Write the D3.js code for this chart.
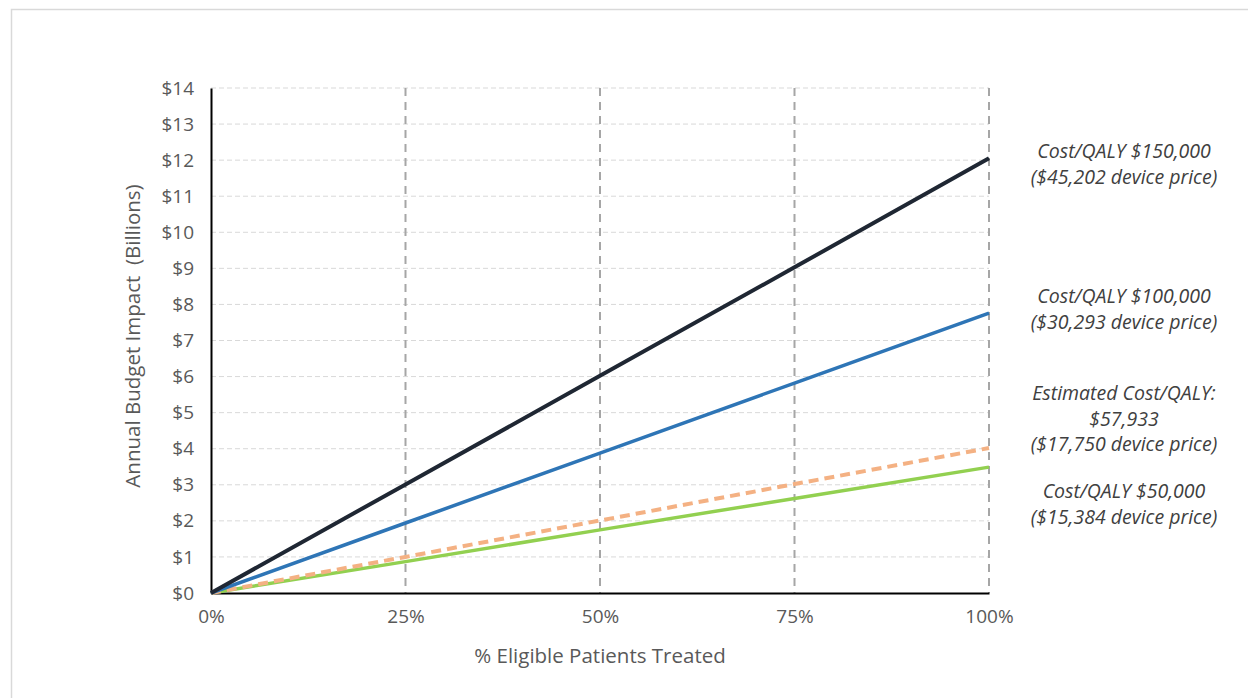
<!DOCTYPE html>
<html><head><meta charset="utf-8">
<script src="https://cdn.jsdelivr.net/npm/d3@7"></script>
<style>body{margin:0;background:#fff;} svg{display:block;}</style>
</head><body>
<svg id="c" width="1248" height="698"></svg>
<script>
const xCategories = [0, 0.25, 0.5, 0.75, 1.0];
const xTickLabels = ["0%", "25%", "50%", "75%", "100%"];
const yTicks = [0,1,2,3,4,5,6,7,8,9,10,11,12,13,14];
const seriesNames = ["Cost/QALY $150,000", "Cost/QALY $100,000", "Estimated Cost/QALY: $57,933", "Cost/QALY $50,000"];
const black150k = [0, 3.01, 6.02, 9.03, 12.05];
const blue100k = [0, 1.94, 3.88, 5.82, 7.76];
const orangeEst = [0, 1.00, 2.01, 3.02, 4.02];
const green50k = [0, 0.87, 1.75, 2.62, 3.49];
const labelLines = [
  ["Cost/QALY $150,000", "($45,202 device price)"],
  ["Cost/QALY $100,000", "($30,293 device price)"],
  ["Estimated Cost/QALY:", "$57,933", "($17,750 device price)"],
  ["Cost/QALY $50,000", "($15,384 device price)"]
];

const svg = d3.select("#c");
const font = "'Open Sans', sans-serif";
// outer frame
svg.append("rect").attr("x",11.5).attr("y",9.5).attr("width",1300).attr("height",800)
  .attr("fill","none").attr("stroke","#d9d9d9").attr("stroke-width",1.5);

const x = d3.scaleLinear().domain([0,1]).range([211,989]);
const y = d3.scaleLinear().domain([0,14]).range([593,88]);

// horizontal gridlines
svg.append("g").selectAll("line").data(yTicks.filter(d=>d>0)).join("line")
  .attr("x1",x(0)).attr("x2",x(1)).attr("y1",d=>y(d)).attr("y2",d=>y(d))
  .attr("stroke","#d9d9d9").attr("stroke-width",1).attr("stroke-dasharray","5,3");
// vertical gridlines
svg.append("g").selectAll("line").data(xCategories.filter(d=>d>0)).join("line")
  .attr("x1",d=>x(d)).attr("x2",d=>x(d)).attr("y1",y(14)).attr("y2",y(0))
  .attr("stroke","#a6a6a6").attr("stroke-width",2).attr("stroke-dasharray","8,6");

// axes
const yAxis = d3.axisLeft(y).tickValues(yTicks).tickFormat(d=>"$"+d).tickSize(0).tickPadding(17);
const gy = svg.append("g").attr("transform",`translate(${x(0)},0)`).call(yAxis);
gy.select(".domain").attr("stroke","#000").attr("stroke-width",2);
gy.selectAll("text").attr("font-family",font).attr("font-size",19).attr("fill","#595959");

const xAxis = d3.axisBottom(x).tickValues(xCategories).tickFormat((d,i)=>xTickLabels[i]).tickSize(0).tickPadding(17);
const gx = svg.append("g").attr("transform",`translate(0,${y(0)})`).call(xAxis);
gx.select(".domain").attr("stroke","#000").attr("stroke-width",2);
gx.selectAll("text").attr("font-family",font).attr("font-size",19).attr("fill","#595959");

// axis titles
svg.append("text").attr("x",600).attr("y",663).attr("text-anchor","middle")
  .attr("font-family",font).attr("font-size",20.5).attr("fill","#595959").text("% Eligible Patients Treated");
svg.append("text").attr("transform","translate(140,336) rotate(-90)").attr("text-anchor","middle")
  .attr("font-family",font).attr("font-size",20.5).attr("fill","#595959")
  .attr("xml:space","preserve").style("white-space","pre").text("Annual Budget Impact  (Billions)");

// series
const line = d3.line().x((d,i)=>x(xCategories[i])).y(d=>y(d));
const series = [
  {v: green50k, c:"#92d050", w:3.5, dash:null},
  {v: orangeEst, c:"#f4b183", w:4, dash:"10,6"},
  {v: blue100k, c:"#2e75b6", w:3.5, dash:null},
  {v: black150k, c:"#1f2733", w:4, dash:null}
];
svg.append("g").selectAll("path").data(series).join("path")
  .attr("d",d=>line(d.v)).attr("fill","none").attr("stroke",d=>d.c)
  .attr("stroke-width",d=>d.w).attr("stroke-dasharray",d=>d.dash);

// right labels
const labelY = [158, 303, 400, 498];
labelLines.forEach((lines,i)=>{
  const t = svg.append("text").attr("text-anchor","middle").attr("font-family",font)
    .attr("font-size",19.5).attr("font-style","italic").attr("fill","#404040");
  lines.forEach((s,j)=>{
    t.append("tspan").attr("x",1124).attr("y",labelY[i]+j*25.5).text(s);
  });
});
</script>
</body></html>
